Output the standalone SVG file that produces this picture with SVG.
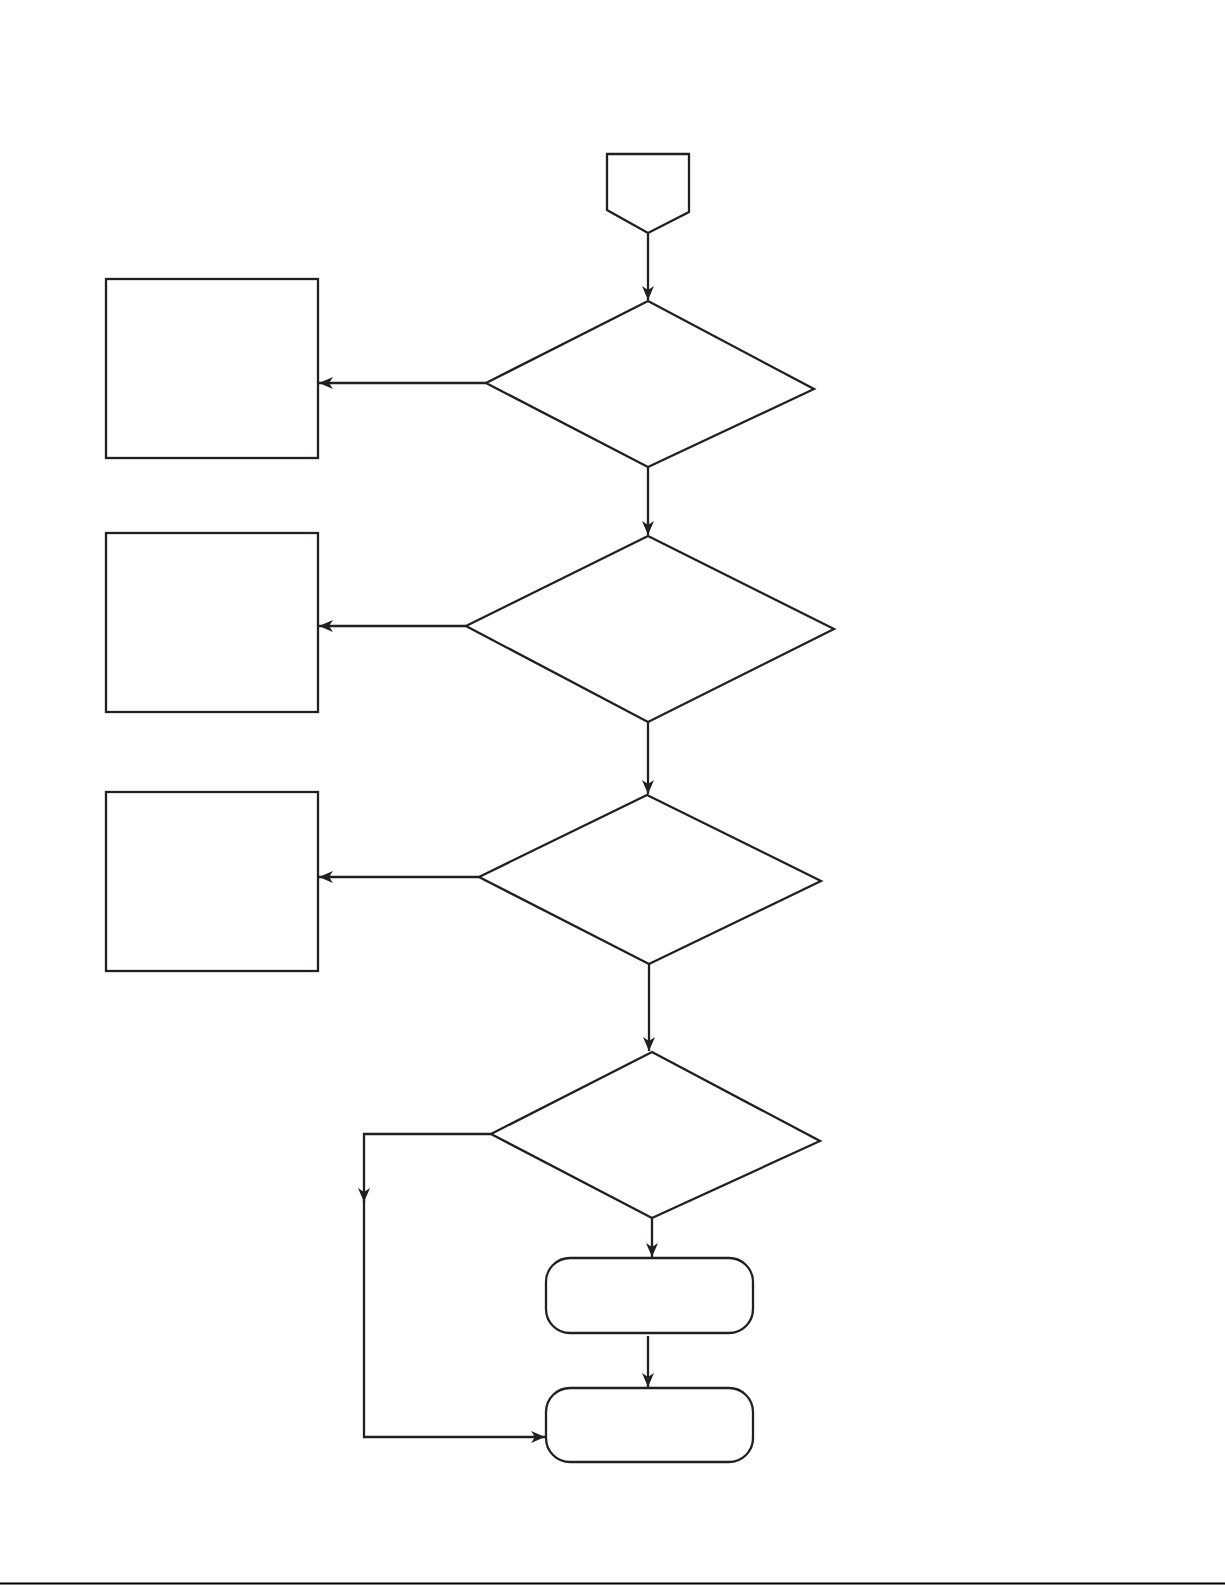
<svg xmlns="http://www.w3.org/2000/svg" width="1225" height="1585" viewBox="0 0 1225 1585">
<style>
.n{fill:#fff;stroke:#231f20;stroke-width:2.3;stroke-linejoin:miter}
.c{fill:none;stroke:#231f20;stroke-width:2.3}
</style>
<defs>
<marker id="ah" markerUnits="userSpaceOnUse" markerWidth="16" markerHeight="14" viewBox="-15 -7 16 14" refX="0" refY="0" orient="auto">
<path d="M0,0 L-14,-6 L-10,0 L-14,6 Z" fill="#231f20"/>
</marker>
</defs>
<rect width="1225" height="1585" fill="#fff"/>
<g id="start"><polygon class="n" points="607,154 689,154 689,212 648,233 607,210"/></g>
<g id="d1"><polygon class="n" points="648,301 814,389 648,467 486,383"/></g>
<g id="d2"><polygon class="n" points="648,536 834,629 648,722 466,626"/></g>
<g id="d3"><polygon class="n" points="647,795 821,881 649,964 479,877"/></g>
<g id="d4"><polygon class="n" points="652,1052 820,1141 652,1218 491,1134"/></g>
<g id="r1"><rect class="n" x="106" y="279" width="212" height="179"/></g>
<g id="r2"><rect class="n" x="106" y="533" width="212" height="179"/></g>
<g id="r3"><rect class="n" x="106" y="792" width="212" height="179"/></g>
<g id="t1"><rect class="n" x="546" y="1258" width="207" height="75" rx="24" ry="24"/></g>
<g id="t2"><rect class="n" x="546" y="1388" width="207" height="74" rx="24" ry="24"/></g>
<g id="connectors">
<path class="c" d="M648,233 V300" marker-end="url(#ah)"/>
<path class="c" d="M648,467 V535" marker-end="url(#ah)"/>
<path class="c" d="M648,722 V794" marker-end="url(#ah)"/>
<path class="c" d="M649,964 V1051" marker-end="url(#ah)"/>
<path class="c" d="M652,1218 V1257" marker-end="url(#ah)"/>
<path class="c" d="M648,1336 V1387" marker-end="url(#ah)"/>
<path class="c" d="M486,383 H319" marker-end="url(#ah)"/>
<path class="c" d="M466,626 H319" marker-end="url(#ah)"/>
<path class="c" d="M479,877 H319" marker-end="url(#ah)"/>
<path class="c" d="M491,1134 H364 V1202" marker-end="url(#ah)"/>
<path class="c" d="M364,1200 V1437 H545" marker-end="url(#ah)"/>
</g>
<line x1="0" y1="1583.5" x2="1225" y2="1583.5" stroke="#000" stroke-width="2"/>
</svg>
